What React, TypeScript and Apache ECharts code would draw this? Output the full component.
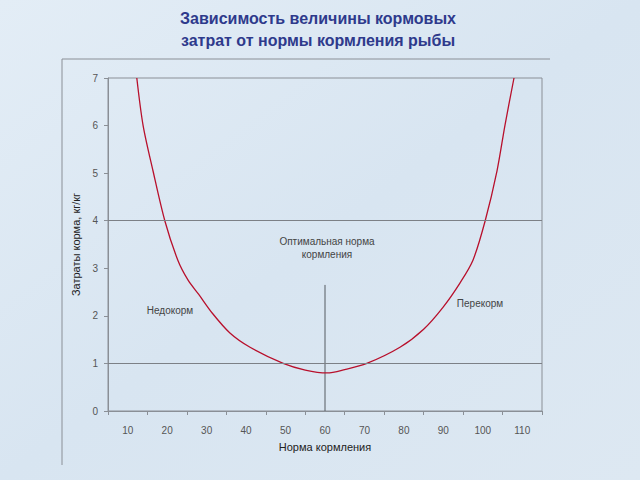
import React, { useEffect, useRef } from "react";
import * as echarts from "echarts";

const categories = ["10", "20", "30", "40", "50", "60", "70", "80", "90", "100", "110"];
const curveX = [12.3, 13.9, 16.4, 19.4, 22.7, 25.3, 28, 31.4, 35.9, 41, 49.4, 55, 60.5, 65, 70.6, 79, 85, 89.9, 94.2, 97.5, 100.6, 103.6, 105.6, 107.9];
const curveY = [7, 6, 5.05, 4, 3.17, 2.75, 2.45, 2.06, 1.64, 1.34, 1.0, 0.86, 0.8, 0.87, 1, 1.34, 1.72, 2.18, 2.69, 3.17, 4, 5.05, 6, 7];
const optimumX = 60;
const optimumTop = 2.65;
const gridLevels = [1, 4];

export default function App() {
  const ref = useRef<HTMLDivElement>(null);
  useEffect(() => {
    if (!ref.current) return;
    const chart = echarts.init(ref.current, null, { renderer: "svg" });
    const font = "'Liberation Sans', Arial, sans-serif";
    chart.setOption({
      animation: false,
      backgroundColor: {
        type: "linear", x: 0, y: 0, x2: 1, y2: 1,
        colorStops: [
          { offset: 0, color: "#e3edf6" },
          { offset: 0.5, color: "#d8e5f1" },
          { offset: 1, color: "#dde8f2" },
        ],
      },
      title: {
        text: "Зависимость величины кормовых\nзатрат от нормы кормления рыбы",
        left: 313,
        textAlign: "center",
        top: 2,
        textStyle: { color: "#2e3a8c", fontSize: 16, fontWeight: "bold", fontFamily: font, lineHeight: 22 },
      },
      grid: { left: 108, right: 98, top: 78, bottom: 69, show: true, borderColor: "#8a8f96", borderWidth: 1, backgroundColor: "transparent" },
      xAxis: [
        {
          type: "category",
          data: categories,
          boundaryGap: true,
          name: "Норма кормления",
          nameLocation: "middle",
          nameGap: 30,
          nameTextStyle: { color: "#222", fontSize: 11, fontFamily: font },
          axisLine: { lineStyle: { color: "#8a8f96" } },
          axisTick: { show: true, length: 4, lineStyle: { color: "#8a8f96" } },
          axisLabel: { color: "#555", fontSize: 10, fontFamily: font, margin: 14 },
          splitLine: { show: false },
        },
        {
          type: "value",
          min: 5,
          max: 115,
          show: false,
          position: "bottom",
        },
      ],
      yAxis: {
        type: "value",
        min: 0,
        max: 7,
        interval: 1,
        name: "Затраты корма, кг/кг",
        nameLocation: "middle",
        nameGap: 20,
        nameRotate: 90,
        nameTextStyle: { color: "#222", fontSize: 11, fontFamily: font },
        axisLine: { show: true, lineStyle: { color: "#8a8f96" } },
        axisTick: { show: true, length: 4, lineStyle: { color: "#8a8f96" } },
        axisLabel: { color: "#555", fontSize: 10, fontFamily: font, margin: 10 },
        splitLine: { show: false },
      },
      series: [
        {
          type: "line",
          xAxisIndex: 1,
          data: curveX.map((x, i) => [x, curveY[i]]),
          smooth: 0.3,
          symbol: "none",
          lineStyle: { color: "#b8102c", width: 1.3 },
          markLine: {
            silent: true,
            symbol: "none",
            label: { show: false },
            lineStyle: { color: "#7c8086", width: 1, type: "solid" },
            data: gridLevels.map((v) => ({ yAxis: v })),
          },
          z: 3,
        },
        {
          type: "line",
          xAxisIndex: 1,
          data: [[optimumX, 0], [optimumX, optimumTop]],
          symbol: "none",
          lineStyle: { color: "#555a60", width: 1 },
          z: 2,
        },
      ],
      graphic: [
        { type: "line", shape: { x1: 62, y1: 59, x2: 550, y2: 59 }, style: { stroke: "#8a8f96", lineWidth: 1 } },
        { type: "line", shape: { x1: 62, y1: 59, x2: 62, y2: 465 }, style: { stroke: "#8a8f96", lineWidth: 1 } },
        { type: "text", x: 327, y: 248, style: { text: "Оптимальная норма\nкормления", fill: "#444", fontSize: 10, fontFamily: font, align: "center", verticalAlign: "middle", lineHeight: 13 } },
        { type: "text", x: 170, y: 310, style: { text: "Недокорм", fill: "#444", fontSize: 10, fontFamily: font, align: "center", verticalAlign: "middle" } },
        { type: "text", x: 480, y: 303, style: { text: "Перекорм", fill: "#444", fontSize: 10, fontFamily: font, align: "center", verticalAlign: "middle" } },
      ],
    });
    return () => chart.dispose();
  }, []);
  return <div ref={ref} style={{ position: "fixed", left: 0, top: 0, width: 640, height: 480 }} />;
}
